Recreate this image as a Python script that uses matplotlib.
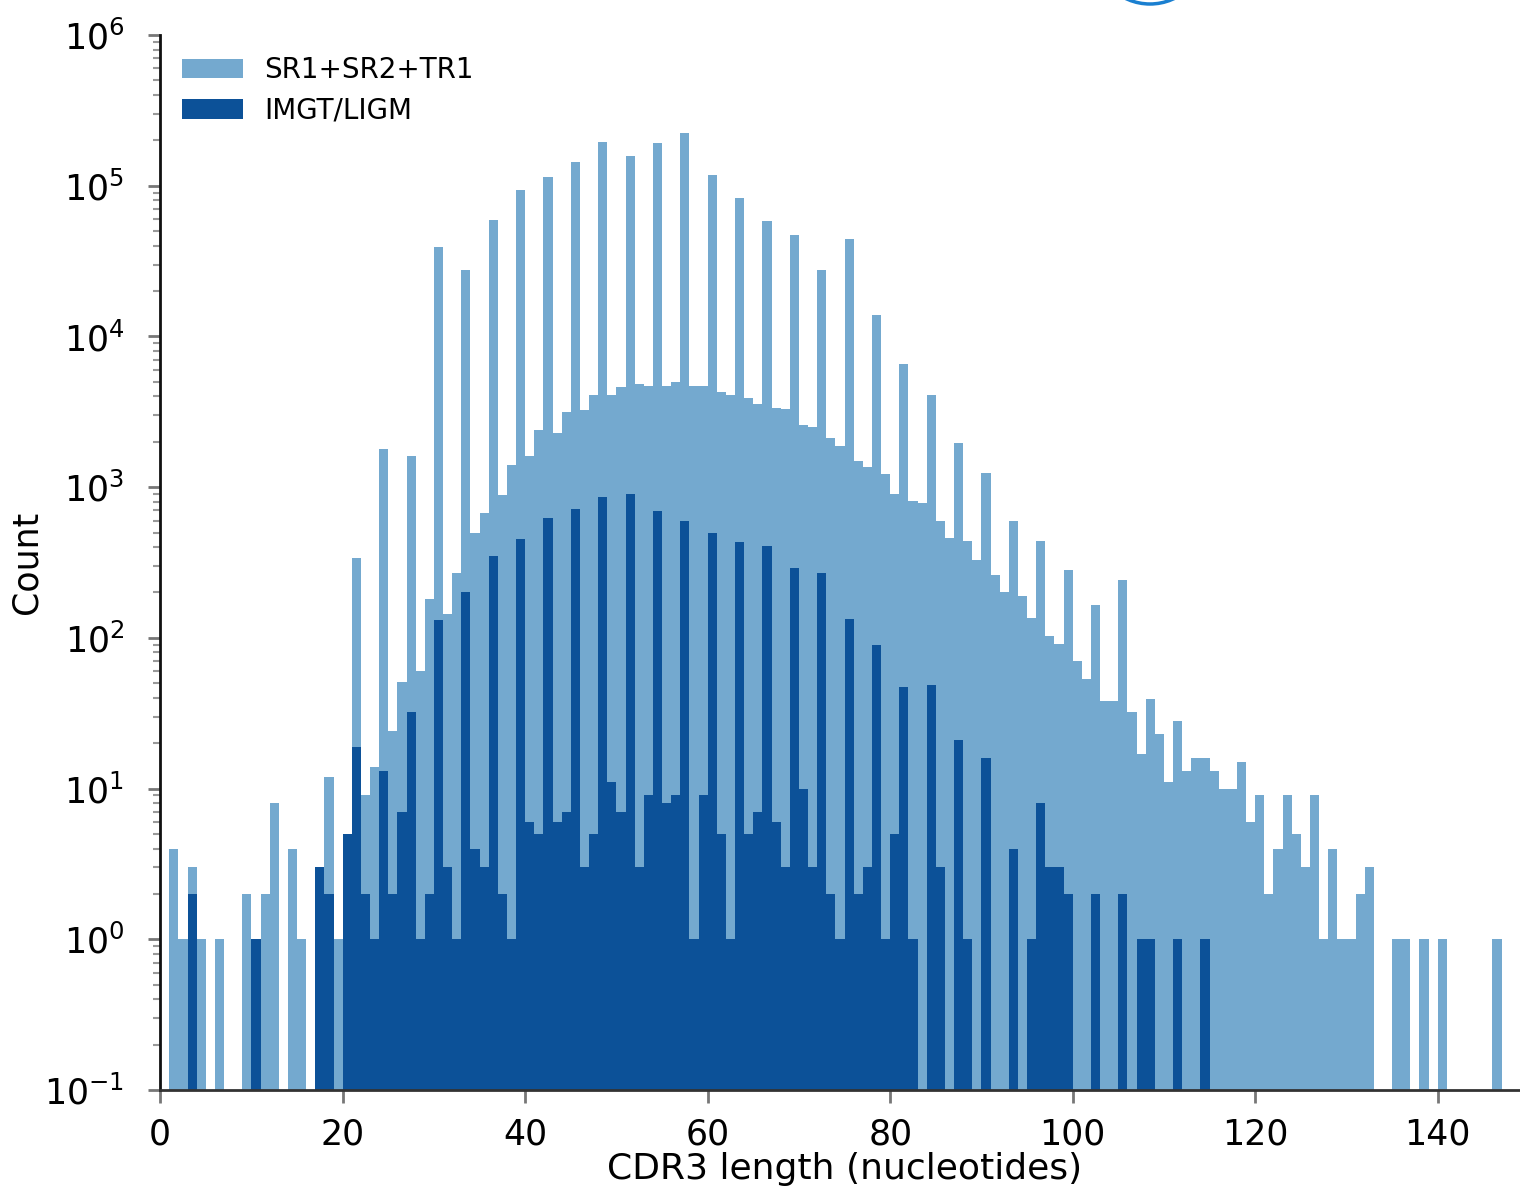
import numpy as np
import matplotlib
matplotlib.use("Agg")
import matplotlib.pyplot as plt
from matplotlib.patches import Ellipse

# CDR3 length (nt) -> read counts, one value per integer length starting at 0
sr_counts = [0, 4, 1, 3, 1, 0, 1, 0, 0, 2,
             1, 2, 8, 0, 4, 1, 0, 3, 12, 1,
             5, 340, 9, 14, 1780, 24, 51, 1600, 60, 180,
             39000, 145, 270, 27500, 500, 670, 59000, 890, 1400, 93000,
             1600, 2400, 115000, 2300, 3150, 143000, 3250, 4100, 195000, 4100,
             4600, 158000, 4850, 4700, 192000, 4700, 4950, 225000, 4700, 4700,
             117000, 4250, 4100, 83000, 3900, 3550, 58000, 3350, 3300, 47000,
             2600, 2500, 27500, 2130, 1870, 44000, 1480, 1350, 13800, 1230,
             900, 6600, 810, 780, 4100, 600, 463, 1950, 437, 330,
             1240, 261, 203, 600, 190, 135, 437, 103, 91, 282,
             70, 53, 165, 38, 38, 243, 32, 17, 39, 23,
             11, 28, 13, 16, 16, 13, 10, 10, 15, 6,
             9, 2, 4, 9, 5, 3, 9, 1, 4, 1,
             1, 2, 3, 0, 0, 1, 1, 0, 1, 0,
             1, 0, 0, 0, 0, 0, 1]

imgt_counts = [0, 0, 0, 2, 0, 0, 0, 0, 0, 0,
               1, 0, 0, 0, 0, 0, 0, 3, 2, 0,
               5, 19, 2, 1, 13, 2, 7, 32, 1, 2,
               131, 3, 1, 200, 4, 3, 350, 2, 1, 450,
               6, 5, 620, 6, 7, 720, 3, 5, 860, 11,
               7, 900, 3, 9, 690, 8, 9, 600, 1, 9,
               500, 5, 1, 430, 5, 7, 410, 6, 3, 290,
               10, 3, 270, 2, 1, 133, 2, 3, 89, 1,
               5, 47, 1, 0, 49, 3, 0, 21, 1, 0,
               16, 0, 0, 4, 0, 1, 8, 3, 3, 2,
               0, 0, 2, 0, 0, 2, 0, 1, 1, 0,
               0, 1, 0, 0, 1]

series_labels = ["SR1+SR2+TR1", "IMGT/LIGM"]
x_ticks = [0, 20, 40, 60, 80, 100, 120, 140]

light_blue = "#74a9cf"
dark_blue = "#0c5198"


def nonzero(counts):
    lengths = np.arange(len(counts))
    counts = np.asarray(counts, dtype=float)
    keep = counts > 0
    return lengths[keep], counts[keep]


fig = plt.figure(figsize=(15.2, 11.95), dpi=100)
ax = fig.add_axes([160.2 / 1520, 105 / 1195, 150 * 9.125 / 1520, 1055 / 1195])
ax.set_yscale("log")

x, y = nonzero(sr_counts)
ax.bar(x, y, width=1.0, align="edge", color=light_blue, linewidth=0, label=series_labels[0])
x, y = nonzero(imgt_counts)
ax.bar(x, y, width=1.0, align="edge", color=dark_blue, linewidth=0, label=series_labels[1])

ax.set_xlim(0, 150)
ax.set_ylim(0.1, 1e6)
ax.set_xticks(x_ticks)

ax.spines["top"].set_visible(False)
ax.spines["right"].set_visible(False)
ax.spines["left"].set_linewidth(2)
ax.spines["left"].set_color("#111111")
ax.spines["bottom"].set_linewidth(2)
ax.spines["bottom"].set_color("#333333")

ax.tick_params(axis="both", which="major", labelsize=25, length=9, width=2,
               color="#777777")
ax.tick_params(axis="x", which="major", pad=11)
ax.tick_params(axis="y", which="major", pad=17)
ax.tick_params(axis="y", which="minor", length=5, width=1.5, color="#999999")

ax.set_xlabel("CDR3 length (nucleotides)", fontsize=26, labelpad=0)
ax.set_ylabel("Count", fontsize=25)
ax.yaxis.set_label_coords(-0.085, 0.5)

ax.legend(loc="upper left", bbox_to_anchor=(0.016, 0.98), frameon=False,
          fontsize=20, borderpad=0, borderaxespad=0, handlelength=2.2,
          handletextpad=0.75, labelspacing=0.45)

# piece of a blue ring cut by the top edge of the figure
fig.add_artist(Ellipse((1150 / 1520, 1247 / 1195), 112 / 1520, 112 / 1195,
                       transform=fig.transFigure, fill=False,
                       edgecolor="#1a7fd0", linewidth=2.5))

fig.savefig("out.png", dpi=100)
